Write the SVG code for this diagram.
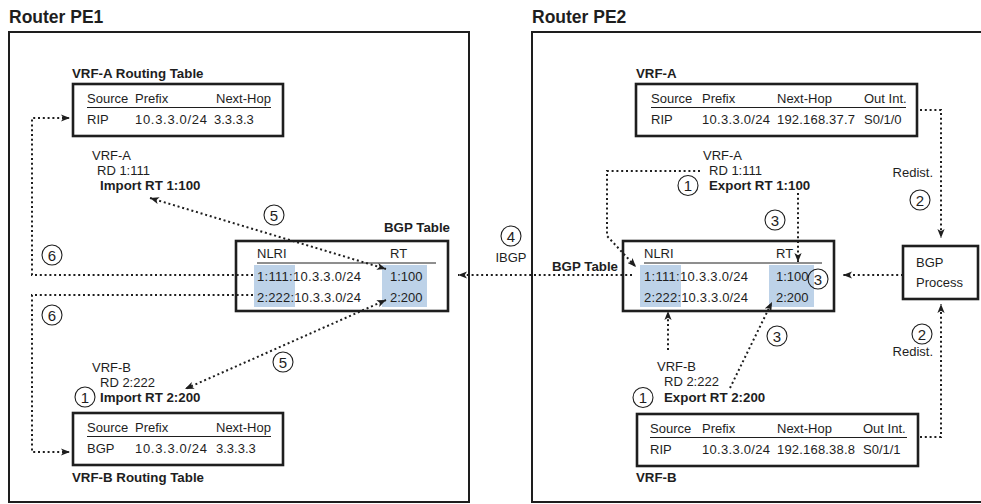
<svg xmlns="http://www.w3.org/2000/svg" width="981" height="504" viewBox="0 0 981 504">
<style>
text{font-family:"Liberation Sans",Arial,Helvetica,sans-serif;font-size:13px;fill:#1e1e1e}
.title{font-size:17.5px;font-weight:bold}
.b{font-weight:bold;font-size:13.3px}
.outer{fill:none;stroke:#1e1e1e;stroke-width:2}
.tbl{fill:#fff;stroke:#1e1e1e;stroke-width:2.6}
.ul{stroke:#1e1e1e;stroke-width:1}
.hl{fill:#bdd2e8}
.num{fill:none;stroke:#1e1e1e;stroke-width:1.1}
.n{font-size:15px;text-anchor:middle}
.dot{fill:none;stroke:#1e1e1e;stroke-width:2;stroke-dasharray:2 2.8}
.mid{text-anchor:middle}
.end{text-anchor:end}
</style>
<defs>
<marker id="ah" viewBox="0 0 10 8" refX="10" refY="4" markerWidth="9" markerHeight="7.5" markerUnits="userSpaceOnUse" orient="auto-start-reverse">
<path d="M0,0 L10,4 L0,8 L2.5,4 z" fill="#1e1e1e"/>
</marker>
</defs>
<rect width="981" height="504" fill="#fff"/>

<g id="router-pe1">
<text x="9" y="23" class="title">Router PE1</text>
<rect x="9" y="32" width="460" height="470" class="outer"/>
</g>
<g id="router-pe2">
<text x="532" y="23" class="title">Router PE2</text>
<rect x="532" y="32" width="470" height="470" class="outer"/>
</g>

<g id="pe1-vrfa-table">
<text x="72" y="78" class="b">VRF-A Routing Table</text>
<rect x="73" y="84" width="210" height="52" class="tbl"/>
<text x="87" y="103">Source</text><text x="135" y="103">Prefix</text><text x="216" y="103">Next-Hop</text>
<line x1="87" y1="107.5" x2="271" y2="107.5" class="ul"/>
<text x="87" y="124">RIP</text><text x="135" y="124" textLength="72">10.3.3.0/24</text><text x="214" y="124">3.3.3.3</text>
</g>

<g id="pe1-vrfa-label">
<text x="92" y="160">VRF-A</text>
<text x="97" y="175">RD 1:111</text>
<text x="100" y="190" class="b">Import RT 1:100</text>
</g>

<g id="pe1-bgp-table">
<text x="450" y="232" class="b end">BGP Table</text>
<rect x="236" y="241" width="212" height="70" class="tbl"/>
<rect x="254" y="265" width="41" height="42" class="hl"/>
<rect x="382" y="265" width="45" height="42" class="hl"/>
<text x="257" y="258">NLRI</text><text x="390" y="258">RT</text>
<line x1="257" y1="263" x2="436" y2="263" class="ul"/>
<text x="257" y="281" textLength="104">1:111:10.3.3.0/24</text><text x="390" y="281">1:100</text>
<text x="257" y="302" textLength="104">2:222:10.3.3.0/24</text><text x="390" y="302">2:200</text>
</g>

<g id="pe1-vrfb-label">
<text x="92" y="372">VRF-B</text>
<text x="100" y="387">RD 2:222</text>
<circle cx="85" cy="397" r="10" class="num"/><text x="85" y="402.5" class="n">1</text>
<text x="100" y="402" class="b">Import RT 2:200</text>
</g>

<g id="pe1-vrfb-table">
<rect x="73" y="413" width="210" height="52" class="tbl"/>
<text x="87" y="432">Source</text><text x="135" y="432">Prefix</text><text x="216" y="432">Next-Hop</text>
<line x1="87" y1="436.5" x2="271" y2="436.5" class="ul"/>
<text x="87" y="453">BGP</text><text x="135" y="453" textLength="72">10.3.3.0/24</text><text x="216" y="453">3.3.3.3</text>
<text x="72" y="482" class="b">VRF-B Routing Table</text>
</g>

<g id="pe1-steps">
<circle cx="52" cy="255" r="10" class="num"/><text x="52" y="260.5" class="n">6</text>
<circle cx="52" cy="315" r="10" class="num"/><text x="52" y="320.5" class="n">6</text>
<circle cx="274" cy="215" r="10" class="num"/><text x="274" y="220.5" class="n">5</text>
<circle cx="283" cy="362" r="10" class="num"/><text x="283" y="367.5" class="n">5</text>
</g>

<g id="ibgp">
<circle cx="511" cy="236" r="10" class="num"/><text x="511" y="241.5" class="n">4</text>
<text x="511" y="262" class="mid">IBGP</text>
</g>

<g id="pe2-vrfa-table">
<text x="636" y="78" class="b">VRF-A</text>
<rect x="636" y="84" width="281" height="52" class="tbl"/>
<text x="651" y="103">Source</text><text x="702" y="103">Prefix</text><text x="777" y="103">Next-Hop</text><text x="864" y="103">Out Int.</text>
<line x1="651" y1="107.5" x2="906" y2="107.5" class="ul"/>
<text x="651" y="124">RIP</text><text x="702" y="124" textLength="68">10.3.3.0/24</text><text x="777" y="124" textLength="78">192.168.37.7</text><text x="864" y="124">S0/1/0</text>
</g>

<g id="pe2-vrfa-label">
<text x="703" y="160">VRF-A</text>
<text x="709" y="175">RD 1:111</text>
<circle cx="688" cy="185.5" r="10" class="num"/><text x="688" y="191" class="n">1</text>
<text x="709" y="190" class="b">Export RT 1:100</text>
</g>

<g id="pe2-bgp-table">
<text x="618" y="271" class="b end">BGP Table</text>
<rect x="623" y="241" width="211" height="70" class="tbl"/>
<rect x="640" y="265" width="41" height="42" class="hl"/>
<rect x="769" y="265" width="45" height="42" class="hl"/>
<text x="644" y="258">NLRI</text><text x="776" y="258">RT</text>
<line x1="644" y1="263" x2="822" y2="263" class="ul"/>
<text x="644" y="281" textLength="104">1:111:10.3.3.0/24</text><text x="776" y="281">1:100</text>
<text x="644" y="302" textLength="104">2:222:10.3.3.0/24</text><text x="776" y="302">2:200</text>
</g>

<g id="pe2-bgp-process">
<rect x="903" y="246" width="75" height="53" class="tbl"/>
<text x="916" y="267">BGP</text>
<text x="916" y="287">Process</text>
</g>

<g id="pe2-steps">
<text x="933" y="177" class="end">Redist.</text>
<circle cx="920" cy="200" r="10" class="num"/><text x="920" y="205.5" class="n">2</text>
<circle cx="922" cy="334" r="10" class="num"/><text x="922" y="339.5" class="n">2</text>
<text x="933" y="356" class="end">Redist.</text>
<circle cx="775" cy="220" r="10" class="num"/><text x="775" y="225.5" class="n">3</text>
<circle cx="818" cy="279" r="10" class="num"/><text x="818" y="284.5" class="n">3</text>
<circle cx="777" cy="336" r="10" class="num"/><text x="777" y="341.5" class="n">3</text>
</g>

<g id="pe2-vrfb-label">
<text x="657" y="371">VRF-B</text>
<text x="664" y="386">RD 2:222</text>
<circle cx="643" cy="397.5" r="10" class="num"/><text x="643" y="403" class="n">1</text>
<text x="664" y="402" class="b">Export RT 2:200</text>
</g>

<g id="pe2-vrfb-table">
<rect x="637" y="414" width="281" height="52" class="tbl"/>
<text x="650" y="433">Source</text><text x="702" y="433">Prefix</text><text x="777" y="433">Next-Hop</text><text x="863" y="433">Out Int.</text>
<line x1="650" y1="437.5" x2="907" y2="437.5" class="ul"/>
<text x="650" y="454">RIP</text><text x="702" y="454" textLength="68">10.3.3.0/24</text><text x="777" y="454" textLength="78">192.168.38.8</text><text x="863" y="454">S0/1/1</text>
<text x="636" y="482" class="b">VRF-B</text>
</g>

<g id="connectors">
<path class="dot" d="M253,275 H32 V118 H70" marker-end="url(#ah)"/>
<path class="dot" d="M253,295 H32 V452 H70" marker-end="url(#ah)"/>
<path class="dot" d="M150,198 L386,269" marker-start="url(#ah)" marker-end="url(#ah)"/>
<path class="dot" d="M386,300 L185,389" marker-start="url(#ah)" marker-end="url(#ah)"/>
<path class="dot" d="M632,275 H458" marker-end="url(#ah)"/>
<path class="dot" d="M700,171 H607 V236 L636,267" marker-end="url(#ah)"/>
<path class="dot" d="M798,193 V262" marker-end="url(#ah)"/>
<path class="dot" d="M668,350 V311" marker-end="url(#ah)"/>
<path class="dot" d="M730,388 L772,302" marker-end="url(#ah)"/>
<path class="dot" d="M920,110 H941 V238" marker-end="url(#ah)"/>
<path class="dot" d="M920,437 H941 V304" marker-end="url(#ah)"/>
<path class="dot" d="M903,275 H843" marker-end="url(#ah)"/>
</g>
</svg>
